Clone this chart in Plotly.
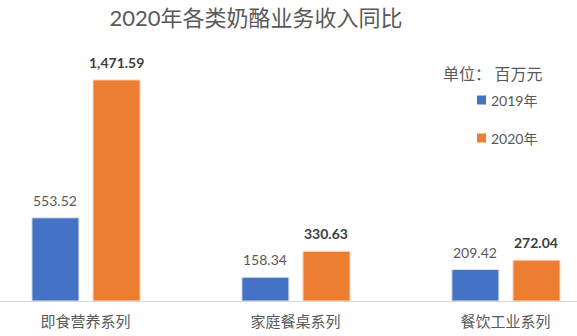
import plotly.graph_objects as go

# Cheese business revenue by product line (million yuan)
categories = ["即食营养系列", "家庭餐桌系列", "餐饮工业系列"]
revenue_2019 = [553.52, 158.34, 209.42]
revenue_2020 = [1471.59, 330.63, 272.04]
series_names = ["2019年", "2020年"]

BLUE = "#4472C4"
ORANGE = "#ED7D31"
GREY = "#595959"
NUM_FONT = "Lato, Noto Sans CJK SC, sans-serif"
CJK_FONT = "Noto Sans CJK SC, sans-serif"

W, H = 577, 336
MARGIN_T, MARGIN_B = 45, 35
PLOT_H = H - MARGIN_T - MARGIN_B
BAR_W = 0.224
fig = go.Figure()
fig.add_trace(go.Bar(
    x=categories, y=revenue_2019, name=series_names[0],
    marker=dict(color=BLUE, line=dict(color="#DCE3F2", width=1)),
    width=BAR_W, offset=-0.255,
))
fig.add_trace(go.Bar(
    x=categories, y=revenue_2020, name=series_names[1],
    marker=dict(color=ORANGE, line=dict(color="#F8D9C4", width=1)),
    width=BAR_W, offset=0.036,
))

# value labels above each bar
for cat, v in zip(categories, revenue_2019):
    fig.add_annotation(x=cat, y=v, text=f"{v:,.2f}", showarrow=False,
                       xshift=-30, yshift=7, yanchor="bottom",
                       font=dict(family=NUM_FONT, size=14, color=GREY))
for cat, v in zip(categories, revenue_2020):
    fig.add_annotation(x=cat, y=v, text=f"<b>{v:,.2f}</b>", showarrow=False,
                       xshift=31, yshift=7, yanchor="bottom",
                       font=dict(family=NUM_FONT, size=14, color="#404040"))

# unit note and hand-placed legend (pixel positions -> plot-area paper units)
def px(x):
    return x / W

def py(y):
    return (H - MARGIN_B - y) / PLOT_H

fig.add_annotation(text="单位： 百万元", xref="paper", yref="paper",
                   x=px(493), y=py(73), showarrow=False,
                   xanchor="center", yanchor="middle",
                   font=dict(family=CJK_FONT, size=16, color=GREY))

for name, color, yc in zip(series_names, [BLUE, ORANGE], [100, 138]):
    fig.add_shape(type="rect", xref="paper", yref="paper",
                  x0=px(477), x1=px(486), y0=py(yc + 4.5), y1=py(yc - 4.5),
                  fillcolor=color, line=dict(width=0))
    fig.add_annotation(text=name, xref="paper", yref="paper",
                       x=px(489), y=py(yc), showarrow=False,
                       xanchor="left", yanchor="middle",
                       font=dict(family=NUM_FONT, size=14, color=GREY))

fig.update_layout(
    width=W, height=H,
    margin=dict(l=0, r=0, t=MARGIN_T, b=MARGIN_B),
    paper_bgcolor="white", plot_bgcolor="white",
    barmode="group",
    title=dict(text="2020年各类奶酪业务收入同比", x=256 / W, xanchor="center",
               xref="paper", y=1 - 18 / H, yanchor="middle",
               font=dict(family=NUM_FONT, size=22, color=GREY)),
    showlegend=False,
)
fig.update_xaxes(range=[-0.407, 2.341], showline=True, linecolor="#D9D9D9",
                 linewidth=1, ticks="", showgrid=False, ticklabelstandoff=7,
                 tickfont=dict(family=CJK_FONT, size=15, color=GREY))
fig.update_yaxes(range=[0, 1704], visible=False, showgrid=False, zeroline=False)

fig.write_html("out.html")
